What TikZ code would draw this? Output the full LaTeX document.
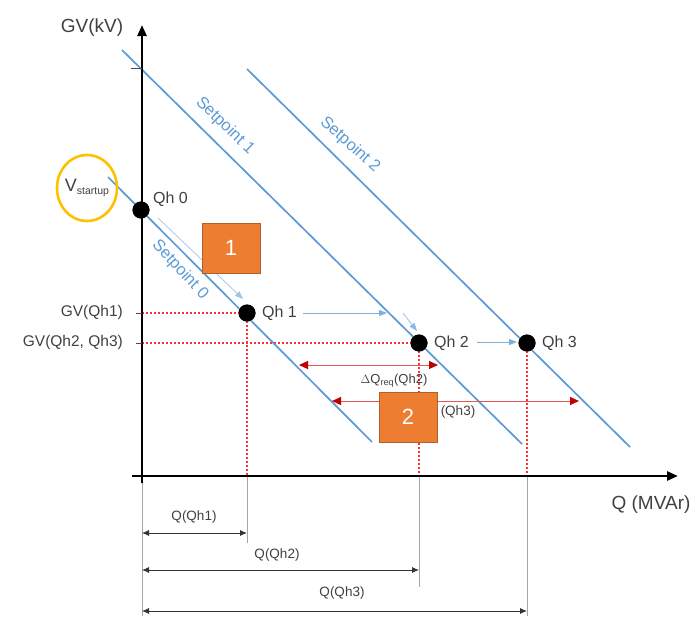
\documentclass[tikz,border=0pt]{standalone}
\usepackage{fontspec}
\setmainfont{Liberation Sans}
\usetikzlibrary{arrows.meta}
\definecolor{spblue}{HTML}{5B9BD5}
\definecolor{boxorange}{HTML}{ED7D31}
\definecolor{boxedge}{HTML}{B0602A}
\definecolor{ringyellow}{HTML}{FFC000}
\definecolor{darkred}{HTML}{C00000}
\definecolor{dotred}{HTML}{FF3030}
\definecolor{arrred}{HTML}{E85555}
\definecolor{txtgray}{HTML}{404040}
\definecolor{dimgray}{HTML}{A6A6A6}
\begin{document}
\begin{tikzpicture}[x=1pt,y=-1pt,
  dot/.style={circle,fill=black,minimum size=17pt,inner sep=0pt},
  qlbl/.style={font=\fontsize{16}{18}\selectfont,text=txtgray,inner sep=1pt,anchor=west},
  axlbl/.style={font=\fontsize{19}{22}\selectfont,text=txtgray,inner sep=0pt},
  gvlbl/.style={font=\fontsize{15.5}{18}\selectfont,text=txtgray,inner sep=0pt,anchor=east},
  dimlbl/.style={font=\fontsize{13.5}{16}\selectfont,text=txtgray,inner sep=0pt},
  splbl/.style={font=\fontsize{16.5}{18}\selectfont,text=spblue,inner sep=0pt},
  spline/.style={spblue,line width=1.7pt},
  guide/.style={draw=dotred,line width=1.1pt,dash pattern=on 2pt off 2pt},
  dimline/.style={dimgray,line width=1pt},
  dimarrow/.style={black!80,line width=0.8pt,{Latex[length=7pt,width=6pt]}-{Latex[length=7pt,width=6pt]}},
  redarrow/.style={arrred,line width=1pt,{Triangle[color=darkred,length=9pt,width=8pt]}-{Triangle[color=darkred,length=9pt,width=8pt]}},
  bluearrow/.style={spblue!80,line width=0.9pt,-{Triangle[length=8pt,width=6pt]}},
  numbox/.style={fill=boxorange,draw=boxedge,line width=0.6pt,minimum width=58pt,minimum height=50pt,inner sep=0pt,text=white,font=\fontsize{22}{24}\selectfont}
]
\useasboundingbox (0,0) rectangle (699,616);

% key coordinates
\coordinate (yb) at (142,483);
\coordinate (yt) at (142,25);
\coordinate (xl) at (132,476);
\coordinate (xr) at (678,476);
\coordinate (s0a) at (108,177);
\coordinate (s0b) at (372,442);
\coordinate (s1a) at (122,50);
\coordinate (s1b) at (522,444);
\coordinate (s2a) at (247,69);
\coordinate (s2b) at (630,447);

% dots
\node[dot] (qh0) at (141,210) {};
\node[dot] (qh1) at (247,313) {};
\node[dot] (qh2) at (419,343) {};
\node[dot] (qh3) at (527,343) {};

% axis foot coordinates
\coordinate (a0) at (142,313);
\coordinate (a1) at (142,343);
\coordinate (f1) at (247,476);
\coordinate (f2) at (419,476);
\coordinate (f3) at (527,476);
\coordinate (f0) at (142,476);

% red dotted guides
\draw[guide] (a0) -- (qh1.center);
\draw[guide] (a1) -- (qh2.center);
\draw[guide] (qh1.center) -- (f1);
\draw[guide] (qh2.center) -- (f2);
\draw[guide] (qh3.center) -- (f3);

% setpoint lines
\draw[spline] (s0a) -- (s0b);
\draw[spline] (s1a) -- (s1b);
\draw[spline] (s2a) -- (s2b);

\node[splbl,rotate=-44] (sp1) at (225,126) {Setpoint 1};
\node[splbl,rotate=-42] (sp2) at (350,145) {Setpoint 2};
\node[splbl,rotate=-47] (sp0) at (180,270) {Setpoint 0};

% dimension lines below axis
\coordinate (d0) at (142,616);
\coordinate (d1) at (247,543);
\coordinate (d2) at (419,587);
\coordinate (d3) at (527,616);
\draw[dimline] (f0) -- (d0);
\draw[dimline] (f1) -- (d1);
\draw[dimline] (f2) -- (d2);
\draw[dimline] (f3) -- (d3);

\coordinate (m1a) at (142,533); \coordinate (m1b) at (247,533);
\coordinate (m2a) at (142,570); \coordinate (m2b) at (419,570);
\coordinate (m3a) at (142,611); \coordinate (m3b) at (527,611);
\draw[dimarrow] (m1a) -- (m1b);
\draw[dimarrow] (m2a) -- (m2b);
\draw[dimarrow] (m3a) -- (m3b);
\node[dimlbl] (lq1) at (194,517) {Q(Qh1)};
\node[dimlbl] (lq2) at (277,555) {Q(Qh2)};
\node[dimlbl] (lq3) at (342,593) {Q(Qh3)};

% axes
\draw[black,line width=2.6pt,-{Triangle[length=11pt,width=9pt]}] (yb) -- (yt);
\draw[black,line width=2.6pt,-{Triangle[length=11pt,width=9pt]}] (xl) -- (xr);
\node[axlbl] (ylab) at (92,28) {GV(kV)};
\node[axlbl] (xlab) at (651,505) {Q (MVAr)};

% ticks
\coordinate (t0a) at (131,68); \coordinate (t0b) at (142,68);
\coordinate (t1a) at (136,313);
\coordinate (t2a) at (136,343);
\draw[black!70,line width=0.8pt] (t0a) -- (t0b);
\draw[black!70,line width=0.8pt] (t1a) -- (a0);
\draw[black!70,line width=0.8pt] (t2a) -- (a1);
\node[gvlbl] (gv1) at (123,312) {GV(Qh1)};
\node[gvlbl] (gv2) at (123,342) {GV(Qh2, Qh3)};

% red difference arrows
\coordinate (r1a) at (299,365); \coordinate (r1b) at (438,365);
\coordinate (r2a) at (332,401); \coordinate (r2b) at (579,401);
\draw[redarrow] (r1a) -- (r1b);
\draw[redarrow] (r2a) -- (r2b);
\node[dimlbl,font=\fontsize{13}{15}\selectfont] (dq) at (394,381) {$\Delta$Q\textsubscript{req}(Qh2)};
\node[dimlbl] (dq3) at (458,412) {(Qh3)};

% blue movement arrows
\coordinate (b0a) at (158,218); \coordinate (b0b) at (243,299);
\coordinate (b1a) at (303,313); \coordinate (b1b) at (387,313);
\coordinate (b2a) at (403,313); \coordinate (b2b) at (417,331);
\coordinate (b3a) at (477,342); \coordinate (b3b) at (517,342);
\draw[bluearrow,spblue!60,line width=0.7pt] (b0a) -- (b0b);
\draw[bluearrow] (b1a) -- (b1b);
\draw[bluearrow,spblue!70,line width=0.7pt] (b2a) -- (b2b);
\draw[bluearrow] (b3a) -- (b3b);

% dots on top
\fill[black] (qh0.center) circle (8.5pt);
\fill[black] (qh1.center) circle (8.5pt);
\fill[black] (qh2.center) circle (8.5pt);
\fill[black] (qh3.center) circle (8.5pt);
\node[qlbl] (l0) at (152,199) {Qh 0};
\node[qlbl] (l1) at (261,313) {Qh 1};
\node[qlbl] (l2) at (433,343) {Qh 2};
\node[qlbl] (l3) at (541,343) {Qh 3};

% V startup ring
\draw[ringyellow,line width=2.6pt] (87,188) ellipse (30pt and 33pt);
\node[text=txtgray,inner sep=0pt] (vs) at (87,188) {\fontsize{18}{20}\selectfont V\raisebox{-3pt}{\fontsize{10.5}{12}\selectfont startup}};

% numbered boxes
\node[numbox] (box1) at (231,248) {1};
\node[numbox] (box2) at (408,417) {2};
\end{tikzpicture}
\end{document}
